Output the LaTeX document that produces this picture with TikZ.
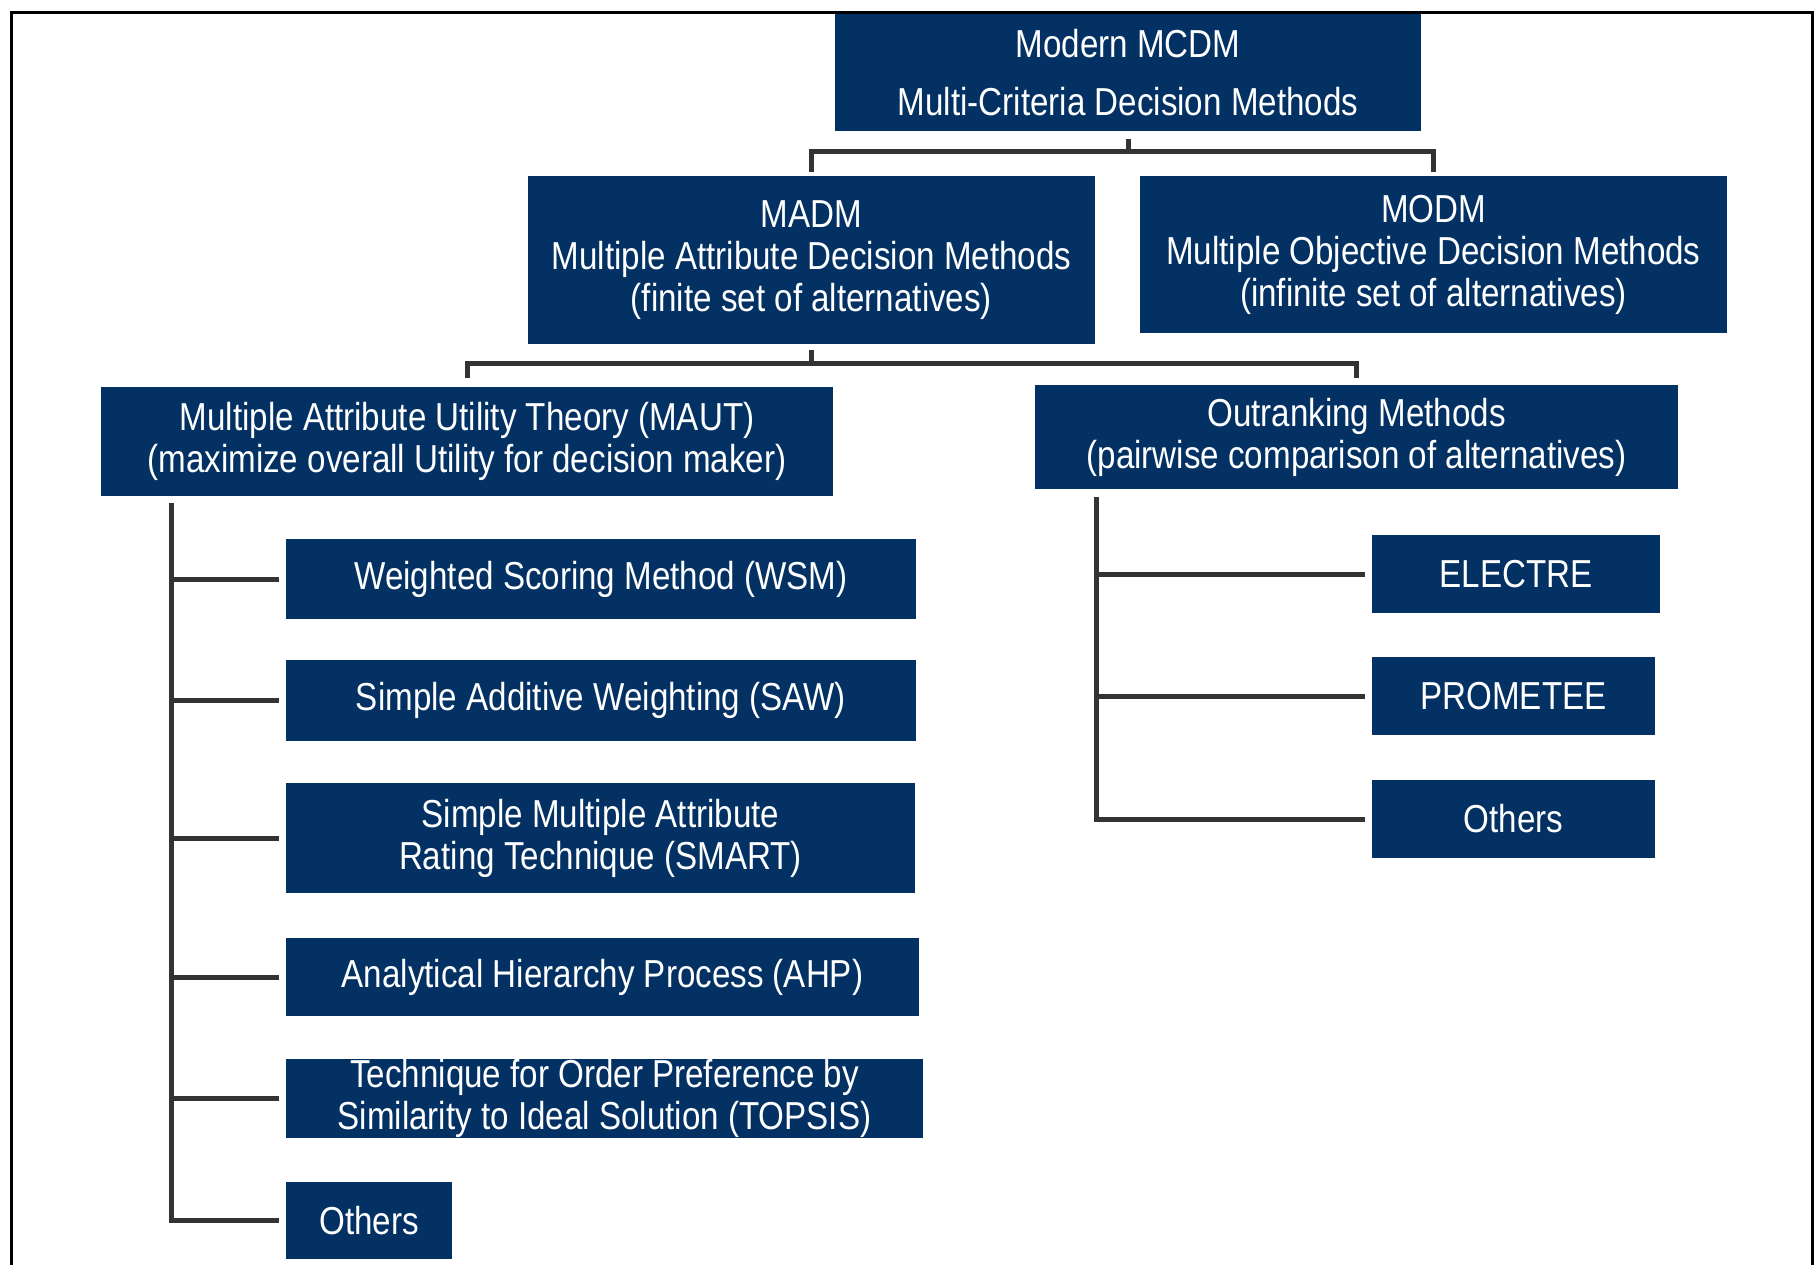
\documentclass[tikz,border=0pt]{standalone}
\usepackage{fontspec}
\setmainfont[FakeStretch=0.85]{Liberation Sans}
\usetikzlibrary{calc}
\definecolor{navy}{RGB}{3,49,99}
\definecolor{conngray}{RGB}{51,51,51}
\tikzset{
  box/.style={fill=navy, text=white, align=center, inner sep=0pt,
    font=\fontsize{19.5}{21}\selectfont},
  conn/.style={draw=conngray, line width=2.5pt},
  frame/.style={draw=black, line width=1.5pt}
}
\begin{document}
\begin{tikzpicture}[x=0.5pt,y=-0.5pt]
\useasboundingbox (0,0) rectangle (1820,1264);
\fill[white] (0,0) rectangle (1820,1264);
\draw[frame] (11,1270) -- (11,12) -- (1812,12) -- (1812,1270);

\node[box, minimum width=293pt, minimum height=58.5pt] (mcdm) at (1128,72.5)
  {Modern MCDM\\[8pt]Multi-Criteria Decision Methods};
\node[box, minimum width=283.5pt, minimum height=84pt] (madm) at (811.5,260)
  {MADM\\Multiple Attribute Decision Methods\\(finite set of alternatives)};
\node[box, minimum width=293.5pt, minimum height=78.5pt] (modm) at (1433.5,254.5)
  {MODM\\Multiple Objective Decision Methods\\(infinite set of alternatives)};
\node[box, minimum width=366pt, minimum height=54.5pt] (maut) at (467,441.5)
  {Multiple Attribute Utility Theory (MAUT)\\(maximize overall Utility for decision maker)};
\node[box, minimum width=321.5pt, minimum height=52pt] (outr) at (1356.5,437)
  {Outranking Methods\\(pairwise comparison of alternatives)};

\node[box, minimum width=315pt, minimum height=40pt] (wsm) at (601,579)
  {Weighted Scoring Method (WSM)};
\node[box, minimum width=315pt, minimum height=40.5pt] (saw) at (601,700.5)
  {Simple Additive Weighting (SAW)};
\node[box, minimum width=314.5pt, minimum height=55pt] (smart) at (600.5,838)
  {Simple Multiple Attribute\\Rating Technique (SMART)};
\node[box, minimum width=316.5pt, minimum height=39pt] (ahp) at (602.5,977)
  {Analytical Hierarchy Process (AHP)};
\node[box, minimum width=318.5pt, minimum height=39.5pt] (topsis) at (604.5,1098.5)
  {Technique for Order Preference by\\Similarity to Ideal Solution (TOPSIS)};
\node[box, minimum width=83pt, minimum height=38.5pt] (oth1) at (369,1220.5)
  {Others};

\node[box, minimum width=144pt, minimum height=39pt] (electre) at (1516,574)
  {ELECTRE};
\node[box, minimum width=141.5pt, minimum height=39pt] (prom) at (1513.5,696)
  {PROMETEE};
\node[box, minimum width=141.5pt, minimum height=39pt] (oth2) at (1513.5,819)
  {Others};

% level 1
\coordinate (j1) at ($(mcdm.south)+(0,20)$);
\draw[conn] ($(mcdm.south)+(0,8)$) -- (j1);
\draw[conn] ($(madm.north)+(0,-4)$) |- (j1) -| ($(modm.north)+(0,-4)$);

% level 2
\coordinate (j2) at ($(madm.south)+(0,19)$);
\draw[conn] ($(madm.south)+(0,6)$) -- (j2);
\draw[conn] ($(maut.north)+(0,-9)$) |- (j2) -| ($(outr.north)+(0,-7)$);

% left tree
\coordinate (lt) at ($(maut.south west)+(71,7)$);
\draw[conn] (lt) |- ($(oth1.west)+(-7,0)$);
\foreach \n in {wsm,saw,smart,ahp,topsis}
  \draw[conn] (lt |- \n.west) -- ($(\n.west)+(-7,0)$);

% right tree
\coordinate (rt) at ($(outr.south west)+(62,8)$);
\draw[conn] (rt) |- ($(oth2.west)+(-7,0)$);
\foreach \n in {electre,prom}
  \draw[conn] (rt |- \n.west) -- ($(\n.west)+(-7,0)$);
\end{tikzpicture}
\end{document}
